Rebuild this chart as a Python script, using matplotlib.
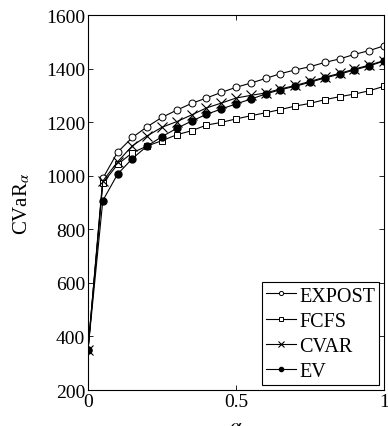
import matplotlib.pyplot as plt
import numpy as np

plt.rcParams['font.family'] = ['Liberation Serif', 'DejaVu Serif']
plt.rcParams['mathtext.fontset'] = 'stix'

alpha = [0.0, 0.05, 0.1, 0.15, 0.2, 0.25, 0.3, 0.35, 0.4, 0.45, 0.5,
         0.55, 0.6, 0.65, 0.7, 0.75, 0.8, 0.85, 0.9, 0.95, 1.0]
expost = [350, 990, 1088, 1143, 1183, 1218, 1245, 1270, 1290, 1311, 1330,
          1346, 1363, 1381, 1395, 1407, 1423, 1436, 1453, 1467, 1485]
fcfs = [350, 972, 1042, 1086, 1111, 1131, 1153, 1168, 1189, 1199, 1212,
        1224, 1235, 1247, 1260, 1270, 1284, 1295, 1305, 1317, 1334]
cvar = [350, 980, 1052, 1112, 1149, 1181, 1202, 1227, 1253, 1271, 1290,
        1300, 1309, 1324, 1337, 1352, 1368, 1382, 1398, 1413, 1430]
ev = [350, 907, 1006, 1064, 1111, 1146, 1177, 1204, 1229, 1249, 1268,
      1286, 1305, 1321, 1334, 1349, 1365, 1379, 1395, 1410, 1428]

fig = plt.figure(figsize=(3.88, 4.27), dpi=100)
ax = fig.add_axes([0.2268, 0.0843, 0.7629, 0.8782])

lw = 0.8
ms = 5
ax.plot(alpha, expost, '-o', color='k', lw=lw, ms=ms, mfc='white', mec='k', mew=0.7, label='EXPOST')
ax.plot(alpha, fcfs, '-s', color='k', lw=lw, ms=ms, mfc='white', mec='k', mew=0.7, label='FCFS')
ax.plot(alpha, cvar, '-x', color='k', lw=lw, ms=6.5, mew=0.8, label='CVAR')
ax.plot(alpha, ev, '-o', color='k', lw=lw, ms=ms, mfc='k', mec='k', label='EV')

ax.set_xlim(0, 1)
ax.set_ylim(200, 1600)
ax.set_xticks([0, 0.5, 1])
ax.set_xticklabels(['0', '0.5', '1'])
ax.set_yticks(np.arange(200, 1601, 200))
ax.tick_params(direction='in', top=True, right=True, length=3.5, width=0.6,
               labelsize=14, pad=2)
for s in ax.spines.values():
    s.set_linewidth(0.8)

ax.set_ylabel(r'CVaR$_\alpha$', fontsize=15, labelpad=10)
fig.text(0.608, 0.022, r'$\alpha$', fontsize=15, ha='center', va='top')

leg = ax.legend(loc='lower right', fontsize=14.5, frameon=True, fancybox=False,
                edgecolor='k', framealpha=1, handlelength=1.5, handletextpad=0.15,
                borderpad=0.2, labelspacing=0.3, borderaxespad=0.25, markerscale=0.6)
leg.get_frame().set_linewidth(0.8)

fig.savefig('out.png', dpi=100)
